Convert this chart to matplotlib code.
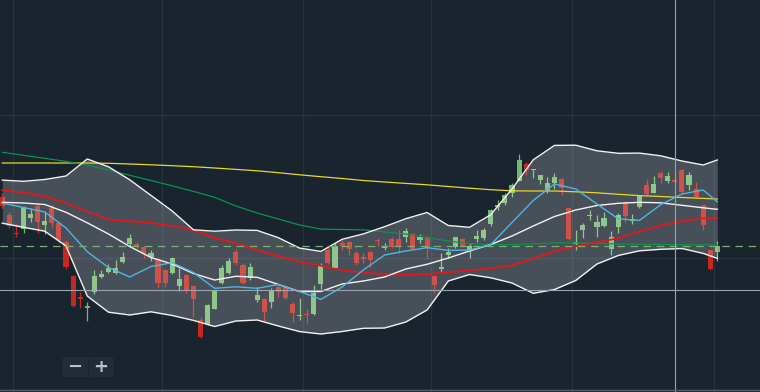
import numpy as np
import matplotlib.pyplot as plt
from matplotlib.patches import FancyBboxPatch

# candles (price units)
opens = [195, 177, 159, 163, 174, 186, 167, 184, 169, 150, 116, 95, 84, 100, 115, 120, 119, 130, 148, 148,
         145, 135, 132, 122, 119, 106, 117, 106, 72, 68, 83, 109, 119, 140, 127, 114, 92, 93, 90, 105,
         105, 88, 76, 78, 78, 108, 142, 124, 149, 150, 139, 135, 140, 152, 144, 153, 153, 155, 158, 152,
         155, 116, 123, 137, 145, 153, 142, 153, 154, 168, 185, 189, 199, 211, 228, 222, 212, 202, 209, 213,
         184, 148, 162, 176, 165, 166, 143, 165, 190, 171, 185, 207, 199, 219, 211, 212, 222, 207, 203, 187,
         142, 140]
highs = [199, 180, 168, 186, 184, 189, 180, 187, 170, 152, 117, 100, 90, 122, 122, 128, 132, 140, 158, 150,
         146, 142, 133, 123, 135, 124, 118, 107, 75, 88, 102, 127, 134, 143, 129, 129, 105, 94, 104, 108,
         107, 90, 94, 83, 107, 129, 144, 149, 152, 151, 141, 139, 141, 154, 149, 155, 162, 164, 159, 158,
         156, 116, 139, 144, 155, 154, 149, 162, 164, 183, 192, 199, 209, 238, 230, 223, 217, 215, 219, 214,
         184, 162, 169, 182, 177, 180, 161, 179, 191, 178, 197, 213, 216, 220, 220, 219, 223, 220, 210, 187,
         142, 151]
lows = [184, 164, 155, 159, 170, 159, 158, 165, 149, 123, 85, 84, 71, 98, 114, 119, 118, 129, 145, 144,
        134, 131, 104, 105, 118, 101, 99, 75, 54, 67, 83, 108, 118, 127, 108, 112, 90, 71, 84, 95,
        93, 70, 72, 69, 77, 103, 128, 124, 142, 137, 127, 129, 125, 146, 142, 144, 139, 150, 143, 149,
        133, 99, 119, 134, 144, 145, 134, 150, 152, 166, 182, 187, 195, 211, 217, 214, 208, 199, 203, 197,
        152, 142, 154, 172, 155, 165, 137, 159, 170, 168, 184, 196, 199, 209, 209, 209, 199, 202, 195, 162,
        122, 131]
closes = [186, 166, 158, 185, 178, 170, 171, 169, 152, 125, 86, 93, 86, 116, 118, 124, 124, 135, 154, 146,
          138, 139, 109, 109, 134, 113, 101, 93, 55, 87, 101, 124, 131, 129, 109, 125, 97, 80, 101, 100,
          94, 79, 77, 77, 99, 126, 129, 146, 146, 143, 129, 133, 132, 151, 146, 145, 145, 161, 143, 155,
          144, 107, 125, 140, 155, 146, 146, 156, 162, 182, 187, 197, 207, 232, 222, 223, 217, 209, 215, 204,
          153, 150, 167, 177, 170, 174, 155, 177, 176, 173, 196, 198, 208, 214, 216, 210, 200, 217, 195, 167,
          123, 146]

# indicator lines, sampled every third candle
line_idx = list(range(0, 100, 3)) + [101]
ma_long = [229, 229, 229, 229, 229, 228.7, 228, 227.2, 226.3, 225.3, 224, 222.6, 221.2, 219.3, 217.2, 215.3,
           213.5, 211.5, 210, 208.6, 207.2, 205.5, 203.8, 202.3, 201.2, 201, 201, 200.2, 199.2, 197.7, 196.4,
           195.5, 194.5, 193.6, 193]
ma_green = [239.7, 236.7, 233.7, 230.6, 226.7, 222, 216.7, 211.5, 206.2, 200.6, 194.7, 186, 179, 173, 167,
            162.9, 162.5, 162.2, 160, 158, 154.4, 151, 148.4, 147.3, 147.4, 148.2, 149.1, 149.1, 148.6, 148,
            147.8, 147.6, 147.3, 147.1, 147]
ma_red = [201.8, 199.5, 195.5, 189, 180.5, 172.5, 170.8, 169.2, 166.2, 162, 154, 148.8, 142, 135.7, 130.5,
          126.2, 121.7, 119.5, 118, 117, 118, 119.8, 121.7, 123.8, 126.5, 133.7, 140.7, 145.8, 149.7, 153.7,
          160.6, 166.5, 171, 173.7, 173.7]
ma_fast = [189, 184.5, 180, 164, 140.3, 124.5, 115, 125.5, 129.3, 119.5, 103.7, 105.2, 103.7, 107.5, 100.5,
           92.6, 105, 122, 137, 141, 144.3, 141.6, 142, 147.4, 169.5, 191.5, 208, 203, 188, 173.2, 171.6,
           187.3, 198, 202, 190.3]
bb_mid = [189.7, 189, 187.5, 179.7, 169.2, 158, 145.5, 134.5, 128, 118.5, 112, 115.7, 114.7, 107.5, 100.4,
          100.5, 108, 111, 115, 123, 127.7, 134, 141, 147.5, 156, 166, 175.5, 182, 186.5, 188.7, 189.7,
          189.2, 186.7, 184.2, 182.7]
bb_upper = [211.9, 210.7, 212.5, 216, 233, 225.2, 212.2, 196.6, 181, 162.2, 160.8, 162, 161.6, 154.3, 143.9,
            140.6, 152.7, 158.1, 165.3, 173.3, 179.5, 166.5, 164.7, 177.3, 203, 232.2, 246.6, 246.8, 241.2,
            238.7, 238.9, 236.2, 231, 227, 232]
bb_lower = [168.8, 164.7, 160.8, 146, 96, 79.8, 77, 80.2, 76.5, 71.6, 65.5, 71, 72, 66, 60.4, 58, 60.5,
            63.7, 64, 70, 82, 111, 117.5, 114.2, 109, 98.7, 102.5, 111.5, 128, 136.5, 141.2, 142.7, 143.5,
            138.6, 133.7]

month_lines = [1.5, 22.5, 42.5, 60.5, 80.5, 100.5]
price_grid = [134, 277]
cursor_idx = 95
cursor_price = 102

BG = '#1a242f'
GRID = '#26323e'
UP = '#73b96f'
DOWN = '#c4281e'

fig = plt.figure(figsize=(7.6, 3.92), dpi=100, facecolor=BG)
ax = fig.add_axes([0, 0, 1, 1])
ax.set_facecolor(BG)
ax.set_xlim(-0.325, 107.03)
ax.set_ylim(0, 392)
ax.set_axis_off()

for m in month_lines:
    ax.axvline(m, color=GRID, lw=1, zorder=0)
for g in price_grid:
    ax.axhline(g, color=GRID, lw=1, zorder=0)

o = np.array(opens, float)
h = np.array(highs, float)
l = np.array(lows, float)
c = np.array(closes, float)
x = np.arange(len(o))
cols = [UP if cc >= oo else DOWN for oo, cc in zip(o, c)]

ax.vlines(x, l, h, colors=cols, lw=0.9, zorder=1)
ax.bar(x, np.maximum(np.abs(c - o), 1.2), 0.72, np.minimum(o, c), color=cols, lw=0, zorder=1)

# bollinger band shading sits over the candles
ax.fill_between(line_idx, bb_lower, bb_upper, color='white', alpha=0.2, lw=0, zorder=2)

ax.plot(line_idx, ma_long, color='#e8d62a', lw=0.9, zorder=3)
ax.plot(line_idx, ma_green, color='#0c9150', lw=0.9, zorder=3)
ax.plot(line_idx, ma_red, color='#e8161b', lw=1.3, zorder=3)
ax.plot(line_idx, bb_upper, color='#f2f2f2', lw=1.0, zorder=3)
ax.plot(line_idx, bb_lower, color='#f2f2f2', lw=1.0, zorder=3)
ax.plot(line_idx, bb_mid, color='#f2f2f2', lw=1.0, zorder=3)
ax.plot(line_idx, ma_fast, color='#4fb6e3', lw=1.0, zorder=3)

# last price line
ax.axhline(closes[-1], color='#78b06c', lw=0.9, dashes=(6, 4.5), zorder=4)

# crosshair
ax.axvline(cursor_idx, color='#9ba4ae', lw=0.8, zorder=5)
ax.axhline(cursor_price, color='#9ba4ae', lw=0.8, zorder=5)

ax.axhline(2.5, color='#55606b', lw=1, zorder=5)

# zoom buttons
bax = fig.add_axes([62 / 760, 15 / 392, 52 / 760, 20 / 392])
bax.set_xlim(0, 52)
bax.set_ylim(0, 20)
bax.set_axis_off()
bax.add_patch(FancyBboxPatch((0, 0), 52, 20, boxstyle='round,pad=0,rounding_size=3',
                             fc='#212c37', ec='none'))
bax.plot([26, 26], [1, 19], color='#1b252f', lw=1)
bax.text(13, 10, '\u2212', color='#b9c1c9', fontsize=13, fontweight='bold', ha='center', va='center')
bax.text(39, 10, '+', color='#b9c1c9', fontsize=13, fontweight='bold', ha='center', va='center')

fig.savefig('out.png', dpi=100, facecolor=BG)
